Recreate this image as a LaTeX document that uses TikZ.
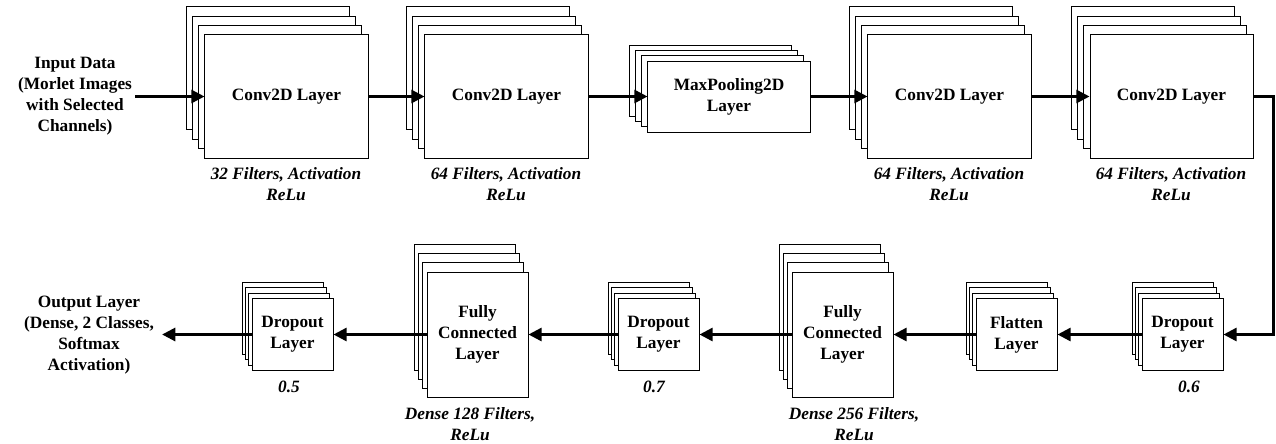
\documentclass[tikz,border=0pt]{standalone}
\usepackage{fontspec}
\setmainfont{Liberation Serif}
\usetikzlibrary{shadows,arrows.meta}

\begin{document}
\begin{tikzpicture}[%
        x=0.025cm, y=-0.025cm,
        every node/.style={ font=\fontsize{12.3}{14.9}\selectfont\bfseries },%
        layer/.style={ draw=black, line width=0.7pt, fill=white, align=center, inner sep=0pt },%
        sheet/.style={ copy shadow={opacity=1, fill=white, draw=black, line width=0.7pt, #1} },%
        conv/.style={ layer, minimum width=4.075cm, minimum height=3.075cm,
          sheet={shadow xshift=-0.46cm, shadow yshift=0.705cm},
          sheet={shadow xshift=-0.305cm, shadow yshift=0.47cm},
          sheet={shadow xshift=-0.1525cm, shadow yshift=0.235cm} },%
        pool/.style={ layer, minimum width=4.05cm, minimum height=1.775cm,
          sheet={shadow xshift=-0.474cm, shadow yshift=0.39cm},
          sheet={shadow xshift=-0.316cm, shadow yshift=0.26cm},
          sheet={shadow xshift=-0.158cm, shadow yshift=0.13cm} },%
        drop/.style={ layer, minimum width=2.025cm, minimum height=1.8cm,
          sheet={shadow xshift=-0.24cm, shadow yshift=0.4cm},
          sheet={shadow xshift=-0.16cm, shadow yshift=0.266cm},
          sheet={shadow xshift=-0.08cm, shadow yshift=0.133cm} },%
        dense/.style={ layer, minimum width=2.525cm, minimum height=3.125cm,
          sheet={shadow xshift=-0.324cm, shadow yshift=0.675cm},
          sheet={shadow xshift=-0.216cm, shadow yshift=0.45cm},
          sheet={shadow xshift=-0.108cm, shadow yshift=0.225cm} },%
        note/.style={ font=\fontsize{12.3}{14.9}\selectfont\bfseries\itshape, align=center },%
        flow/.style={ line width=1.8pt, -{Triangle[length=0.33cm,width=0.33cm]} }%
      ]
      \useasboundingbox (0,0) rectangle (1276,443);
      % upper row
      \node (input) at (75,96.5) [align=center, inner xsep=0.075cm]{Input Data\\(Morlet Images\\with Selected\\Channels)};
      \node (conv1) at ( 286.5,96.5) [conv]{Conv2D Layer};
      \node (conv2) at ( 506.5,96.5) [conv]{Conv2D Layer};
      \node (pool)  at ( 729,  96.5) [pool]{MaxPooling2D\\Layer};
      \node (conv3) at ( 949.5,96.5) [conv]{Conv2D Layer};
      \node (conv4) at (1171.5,96.5) [conv]{Conv2D Layer};
      \node (note1) at ( 286,184.5) [note]{32 Filters, Activation\\ReLu};
      \node (note2) at ( 506,184.5) [note]{64 Filters, Activation\\ReLu};
      \node (note3) at ( 949,184.5) [note]{64 Filters, Activation\\ReLu};
      \node (note4) at (1171,184.5) [note]{64 Filters, Activation\\ReLu};
      % lower row
      \node (drop1)  at (1182.5,334.5) [drop]{Dropout\\Layer};
      \node (flat)   at (1016.5,334.5) [drop]{Flatten\\Layer};
      \node (dense1) at ( 842.5,334.5) [dense]{Fully\\Connected\\Layer};
      \node (drop2)  at ( 658.5,334.5) [drop]{Dropout\\Layer};
      \node (dense2) at ( 477.5,334.5) [dense]{Fully\\Connected\\Layer};
      \node (drop3)  at ( 292.5,334.5) [drop]{Dropout\\Layer};
      \node (output) at (89,335.5) [align=center, inner xsep=0.2cm]{Output Layer\\(Dense, 2 Classes,\\Softmax\\Activation)};
      \node (rate1)  at (1189,387) [note]{0.6};
      \node (rate2)  at ( 654,387) [note]{0.7};
      \node (rate3)  at ( 289,387) [note]{0.5};
      \node (note5)  at ( 854,424) [note]{Dense 256 Filters,\\ReLu};
      \node (note6)  at ( 470,424) [note]{Dense 128 Filters,\\ReLu};
      % connectors
      \draw [flow] (input) -- (conv1);
      \draw [flow] (conv1) -- (conv2);
      \draw [flow] (conv2) -- (pool);
      \draw [flow] (pool) -- (conv3);
      \draw [flow] (conv3) -- (conv4);
      \draw [flow] (conv4.east) -- ++(20,0) |- (drop1.east);
      \draw [flow] (drop1) -- (flat);
      \draw [flow] (flat) -- (dense1);
      \draw [flow] (dense1) -- (drop2);
      \draw [flow] (drop2) -- (dense2);
      \draw [flow] (dense2) -- (drop3);
      \draw [flow] (drop3) -- (output.east |- drop3);
    \end{tikzpicture}
\end{document}
